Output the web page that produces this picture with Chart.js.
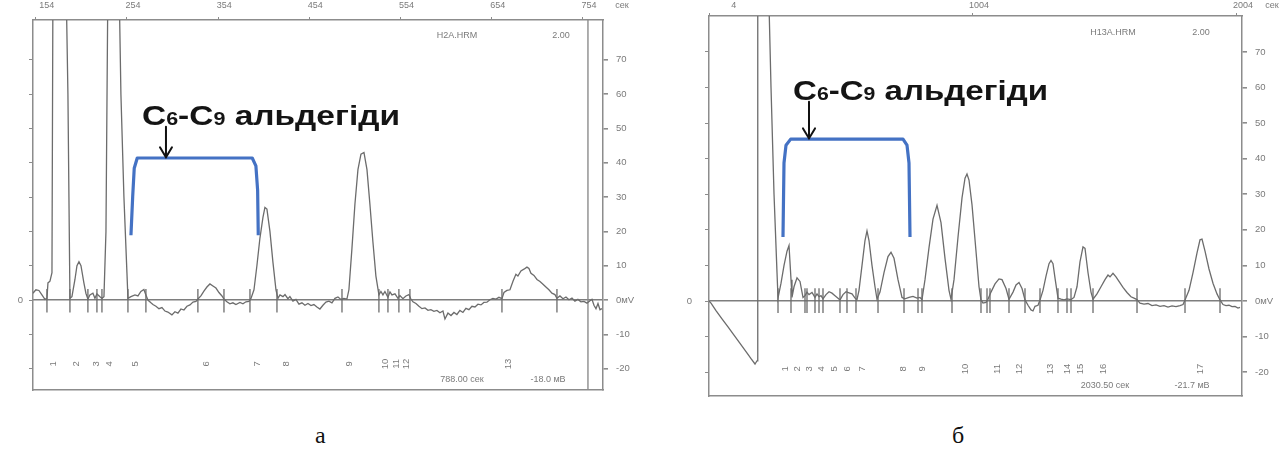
<!DOCTYPE html>
<html>
<head>
<meta charset="utf-8">
<script src="https://cdn.jsdelivr.net/npm/chart.js@4.4.1/dist/chart.umd.min.js"></script>
<style>
  html, body { margin: 0; padding: 0; background: #fff; }
  #wrap { position: relative; width: 1287px; height: 457px; overflow: hidden; background: #fff; }
  canvas { position: absolute; }
  .cap { position: absolute; font-family: "Liberation Serif", "Times New Roman", serif; font-size: 24px; line-height: 24px; color: #111; }
</style>
</head>
<body>
<div id="wrap">
  <canvas id="runA" width="645" height="400" style="left:0px;top:0px"></canvas>
  <canvas id="runB" width="647" height="402" style="left:640px;top:0px"></canvas>
  <div class="cap" style="left:315px;top:423px">а</div>
  <div class="cap" style="left:952px;top:423px">б</div>
</div>
<script>
// ---------- shared ----------
const yTicks = [-20, -10, 0, 10, 20, 30, 40, 50, 60, 70];
const titleParts = [['C', 'big'], ['6', 'sub'], ['-C', 'big'], ['9', 'sub'], [' альдегіди', 'big']];

// ---------- run а : H2A.HRM ----------
const topTicksA = [154, 254, 354, 454, 554, 654, 754];
// [time, mV]
const signalA = [
  [150.9,2.0],[154.2,3.0],[157.5,2.8],[160.8,1.5],[164.1,0.2],[166.3,0.5],[167.4,5.0],[169.6,5.5],[171.8,8],
  [172.9,95],[187.1,95],[189.3,60],[190.4,30],[191.5,0.5],
  [193.7,1],[197,6],[199.2,10],[201.4,11.2],[203.6,10],[206.8,5],[209,2],[211.2,0.3],[213.4,1.5],[216.7,2],
  [218.9,0.5],[221.1,1.8],[224.4,1],[226.6,0.5],[228.8,1],[231,20],[233.2,95],[245.2,95],[247.4,60],[250.7,30],
  [254,8],[255.1,0.5],[258.4,1],[262.8,1.5],[266.1,1.2],[269.3,2.5],[272.6,3.1],[274.8,1.5],[277,0],
  [280.3,-0.8],[282.5,-1.3],[285.8,-1.8],[289.1,-2.5],[292.4,-2.2],[295.7,-3.2],[298.9,-3.5],[303.3,-4.3],
  [306.6,-3.4],[309.9,-3.8],[313.2,-2.6],[316.5,-2.9],[319.8,-1.8],[323.1,-1.4],[326.4,-0.6],[329.7,-0.4],
  [331.8,0.3],[335.1,1.2],[338.4,2.6],[341.7,3.8],[345,4.7],[348.3,4.1],[351.6,3.5],[354.9,2.2],[358.2,1.2],
  [360.4,0.3],[363.6,-0.5],[366.9,-1.1],[370.2,-0.8],[373.5,-1.3],[377.9,-0.7],[381.2,-1.1],[384.5,-0.5],
  [387.8,-0.4],[390,0.5],[393.3,3],[396.5,10],[399.8,18],[403.1,24],[405.3,27],[407.5,26.5],[410.8,20],
  [414.1,11],[417.4,3],[419.6,0.5],[421.8,1.5],[425.1,1.0],[427.3,1.6],[430.5,0.4],[432.7,1.0],[436,-0.3],
  [439.3,0.2],[442.6,-1.2],[445.9,-0.8],[449.2,-1.5],[452.5,-1.0],[455.8,-1.6],[459,-1.3],[462.3,-2.0],
  [465.6,-2.6],[468.9,-1.5],[472.2,-0.6],[475.5,-0.3],[478.8,-0.8],[482.1,0.5],[485.4,0.9],[488.6,0.2],
  [491.9,0.5],[495.2,0.3],[497.4,3],[500.7,15],[504,28],[507.3,38],[510.6,42.5],[513.9,43],[517.2,38],
  [520.4,28],[523.7,17],[527,7],[530.3,1.5],[532.5,2.5],[534.7,1.5],[536.9,2.5],[540.2,0.8],[542.4,2.4],
  [544.6,1.5],[547.9,1.8],[551.2,0.5],[553.3,1.3],[556.6,0.4],[559.9,1.2],[563.2,1.6],[565.4,0.3],
  [567.6,-0.5],[570.9,-1.0],[574.2,-1.8],[577.5,-2.5],[580.8,-2.3],[584.1,-3.0],[587.3,-2.8],[590.6,-3.3],
  [593.9,-3.0],[597.2,-3.7],[600.5,-3.2],[602.7,-5.5],[606,-3.8],[609.3,-4.5],[612.6,-3.6],[615.8,-4.2],
  [619.1,-3.0],[622.4,-3.6],[625.7,-2.4],[629,-2.8],[632.3,-1.8],[635.6,-2.0],[638.9,-1.2],[642.2,-1.4],
  [645.4,-0.7],[648.7,-0.6],[652,0.1],[655.3,0.5],[658.6,0.3],[661.9,0.8],[665.2,0.4],[667.4,2.2],
  [670.7,2.8],[674,3],[677.3,5.5],[680.5,7.5],[682.7,7],[686,8.5],[689.3,9.0],[692.6,9.6],[694.8,9.2],
  [697,7.8],[700.3,7.2],[703.6,6.0],[706.9,5.4],[710.2,4.6],[713.4,3.8],[716.7,3.0],[720,2.0],[723.3,1.6],
  [725.5,0.5],[728.8,1.2],[732.1,0.4],[735.4,0.9],[738.7,0.1],[742,0.6],[745.2,-0.3],[748.5,0.2],
  [751.8,-0.5],[755.1,-0.4],[758.4,-0.9],[761.7,-0.2],[763.9,0.2],[766.1,-1.5],[768.3,-2.5],[770.5,-1.0],
  [772.7,-2.8],[774.8,-2.5]
];
const markersA = [166.3, 191.5, 211.2, 221.1, 226.6, 255.1, 274.8, 331.8, 360.4, 388.9, 418.5,
                  489.8, 530.3, 540.2, 552.2, 564.3, 665.2, 725.5];
const peakTimesA = [172.9, 198.1, 220, 234.3, 262.8, 340.6, 396.5, 428.3, 497.4, 536.9, 549, 560, 671.8];
const peakNamesA = ['1', '2', '3', '4', '5', '6', '7', '8', '9', '10', '11', '12', '13'];
const bracketA = [[258.4,18.9],[260.3,30.1],[262,38.4],[265.3,41.4],[391.4,41.4],[395.4,39.1],[397.3,32],[398,18.9]];
const endOfRunA = 759.5;

// ---------- run б : H13A.HRM ----------
const topTicksB = [4, 1004, 2004];
const signalB = [
  [4,0],[11.6,-0.6],[30.5,-2.7],[53.2,-5.0],[76,-7.3],[98.7,-9.6],[121.5,-11.9],[144.2,-14.2],[163.2,-16.2],
  [178.3,-17.7],[185.9,-16.8],[187.8,-16],[189.6,95],[227.5,95],[238.9,60],[250.3,30],[261.6,8],[265.4,0.8],
  [276.8,5],[288.2,10],[299.5,14],[307.1,15.6],[314.7,6],[318.4,1],[326,4],[337.4,6.5],[348.7,5.5],[360.1,1],
  [367.7,1.5],[375.2,2.5],[382.8,1.8],[394.2,2.4],[405.5,1.0],[413.1,2.0],[420.7,1.2],[428.3,1.5],[435.8,0.6],
  [447.2,1.8],[458.6,2.6],[469.9,2.2],[481.3,1.5],[492.7,0.8],[500.2,0.3],[511.6,1.8],[523,2.6],[534.3,2.3],
  [545.7,2.0],[557.1,0.8],[564.6,0.4],[572.2,3],[583.6,10],[594.9,17],[602.5,19.7],[610.1,17],[621.4,10],
  [632.8,4],[640.4,0.5],[651.7,2.5],[666.9,8],[682,12.5],[693.4,13.7],[704.8,12],[719.9,6],[735.1,1],
  [746.4,0.6],[761.6,1.0],[776.7,1.3],[791.9,0.8],[803.3,1.0],[810.8,0.4],[822.2,6],[837.4,15],[852.5,23],
  [867.7,26.9],[882.8,22],[898,12],[913.1,3],[920.7,0.5],[932.1,6],[947.3,18],[962.4,29],[973.8,34.5],
  [981.3,35.7],[988.9,34],[1000.3,27],[1015.4,14],[1026.8,4],[1034.3,0.3],[1041.9,-0.6],[1053.3,-0.4],
  [1060.8,0.5],[1072.2,2.5],[1087.4,4.8],[1102.5,6.2],[1113.9,6.0],[1129.1,3.5],[1140.4,0.5],[1155.6,2.5],
  [1167,4.5],[1178.3,5.2],[1189.7,3.5],[1201.1,0.3],[1212.4,-1.2],[1223.8,-2.5],[1231.3,-2.8],[1238.9,-1.5],
  [1250.3,-1.2],[1257.8,0.3],[1269.2,3],[1280.6,7],[1292,10.5],[1299.5,11.4],[1307.1,10.5],[1314.6,6.5],
  [1326,0.8],[1337.4,0.5],[1348.7,0.3],[1360.1,0.6],[1375.3,0.4],[1386.6,1],[1398,4],[1409.3,11],
  [1420.7,15.2],[1428.3,14.8],[1439.6,8],[1451,2.5],[1458.6,0.5],[1473.7,2],[1488.9,4],[1504,6],[1515.4,7.3],
  [1523,6.8],[1534.3,7.8],[1545.7,6.8],[1557.1,5.5],[1572.2,3.8],[1587.4,2.4],[1602.5,1.2],[1613.9,0.8],
  [1625.3,0.4],[1636.6,-0.6],[1651.8,-0.9],[1667,-0.7],[1682.1,-1.3],[1697.3,-1.1],[1712.4,-1.5],
  [1727.6,-1.3],[1742.7,-1.7],[1757.9,-1.4],[1773,-1.6],[1788.2,-1.3],[1799.6,-1.0],[1807.1,0.3],[1822.3,3],
  [1837.4,8],[1852.6,13.5],[1863.9,17.2],[1871.5,17.4],[1882.9,14],[1898,9],[1913.1,5],[1928.3,2],
  [1939.7,0.3],[1951,-1.0],[1962.4,-1.3],[1973.7,-1.2],[1985.1,-1.6],[1996.5,-1.5],[2007.8,-2.0],[2015.4,-1.8]
];
const markersB = [265.4, 314.6, 367.6, 375.2, 405.5, 420.7, 435.8, 500.2, 526.7, 560.8, 644.2, 742.7,
                  795.7, 810.8, 924.5, 1034.3, 1057.1, 1068.4, 1140.4, 1201, 1257.8, 1326, 1360.1, 1375.3,
                  1458.6, 1625.3, 1807.1, 1939.7];
const peakTimesB = [291.9, 337.3, 382.8, 428.2, 477.5, 526.7, 583.6, 738.9, 810.8, 973.7, 1094.9, 1178.2,
                    1295.7, 1360.1, 1409.3, 1496.5, 1863.9];
const peakNamesB = ['1','2','3','4','5','6','7','8','9','10','11','12','13','14','15','16','17'];
const bracketB = [[284.3,18],[288.1,38.8],[295.7,43.8],[313.4,45.5],[738.9,45.5],[754,43.8],[761.6,38.8],[765.4,18]];

// ---------- drawing ----------
const TRACE = '#6c6c6c';
const FRAME = '#8c8c8c';
const LABEL = '#7a7a7a';
const FONT = '"Liberation Sans", Arial, sans-serif';

function toPoints(pairs) { return pairs.map(([x, y]) => ({ x, y })); }

function markerPoints(times, lo, hi) {
  const pts = [];
  times.forEach(t => { pts.push({ x: t, y: hi }, { x: t, y: lo }, { x: t, y: null }); });
  return pts;
}

function drawTitle(ctx, x0, base, width) {
  const sizes = { big: 28, sub: 18 };
  let natural = 0;
  titleParts.forEach(([txt, k]) => { ctx.font = `bold ${sizes[k]}px ${FONT}`; natural += ctx.measureText(txt).width; });
  const s = width / natural;
  ctx.save();
  ctx.translate(x0, base);
  ctx.scale(s, 1);
  ctx.fillStyle = '#141414';
  ctx.textAlign = 'left';
  ctx.textBaseline = 'alphabetic';
  let cx = 0;
  titleParts.forEach(([txt, k]) => {
    ctx.font = `bold ${sizes[k]}px ${FONT}`;
    ctx.fillText(txt, cx, 0);
    cx += ctx.measureText(txt).width;
  });
  ctx.restore();
}

function overlay(o) {
  return {
    id: 'overlay',
    afterDatasetsDraw(chart) {
      const { ctx, scales: { x, y } } = chart;
      ctx.save();
      // peak numbers under the baseline, printed sideways
      ctx.fillStyle = LABEL;
      ctx.font = `9.5px ${FONT}`;
      ctx.textAlign = 'center';
      ctx.textBaseline = 'middle';
      const py = y.getPixelForValue(o.peakLabelY);
      o.peakTimes.forEach((t, i) => {
        ctx.save();
        ctx.translate(x.getPixelForValue(t), py);
        ctx.rotate(-Math.PI / 2);
        ctx.fillText(o.peakNames[i], 0, 0);
        ctx.restore();
      });
      // printer notes
      ctx.font = `9px ${FONT}`;
      o.notes.forEach(n => ctx.fillText(n.text, n.x, n.y));
      // arrow pointing at the bracket
      const ax = x.getPixelForValue(o.arrow.t);
      const a0 = y.getPixelForValue(o.arrow.from);
      const a1 = y.getPixelForValue(o.arrow.to);
      ctx.strokeStyle = '#111';
      ctx.lineWidth = 2;
      ctx.lineCap = 'round';
      ctx.beginPath();
      ctx.moveTo(ax, a0); ctx.lineTo(ax, a1);
      ctx.moveTo(ax - 6, a1 - 10); ctx.lineTo(ax, a1); ctx.lineTo(ax + 6, a1 - 10);
      ctx.stroke();
      drawTitle(ctx, o.title.x, o.title.y, o.title.w);
      ctx.restore();
    }
  };
}

function buildRun(id, c) {
  const datasets = [
    { data: toPoints(c.signal), borderColor: TRACE, borderWidth: 1.3 },
    { data: markerPoints(c.markers, c.markLo, c.markHi), borderColor: TRACE, borderWidth: 1.3, spanGaps: false },
    { data: toPoints(c.bracket), borderColor: '#4472c4', borderWidth: 3.2, borderJoinStyle: 'round' }
  ];
  if (c.endOfRun !== undefined) {
    datasets.push({ data: [{ x: c.endOfRun, y: c.yMin }, { x: c.endOfRun, y: c.yMax }], borderColor: FRAME, borderWidth: 1.4 });
  }
  datasets.forEach(d => Object.assign(d, { pointRadius: 0, tension: 0, fill: false, xAxisID: 'x', yAxisID: 'y' }));

  const ySet = ax => { ax.ticks = yTicks.map(v => ({ value: v })); };
  const yFit = w => ax => { ax.width = w; ax.paddingTop = 0; ax.paddingBottom = 0; };
  return new Chart(document.getElementById(id), {
    type: 'line',
    data: { datasets },
    plugins: [overlay(c.overlay)],
    options: {
      responsive: false,
      animation: false,
      devicePixelRatio: 1,
      events: [],
      layout: { padding: { left: c.padLeft, right: 0, top: 0, bottom: 0 } },
      plugins: { legend: { display: false }, tooltip: { enabled: false } },
      scales: {
        x: {
          type: 'linear', position: 'top', min: c.xMin, max: c.xMax,
          afterBuildTicks: ax => { ax.ticks = c.topTicks.map(v => ({ value: v })); },
          afterFit: ax => { ax.height = c.topH; ax.paddingLeft = 0; ax.paddingRight = 0; },
          ticks: { autoSkip: false, maxRotation: 0, minRotation: 0, labelOffset: 6, padding: c.topPad,
                   color: LABEL, font: { size: 9 }, callback: c.topLabel },
          grid: { drawOnChartArea: false, drawTicks: true, tickLength: 3, color: FRAME, tickColor: FRAME },
          border: { display: true, color: FRAME, width: 1.5 }
        },
        xb: {
          type: 'linear', position: 'bottom', min: c.xMin, max: c.xMax,
          ticks: { display: false },
          grid: { display: false, drawTicks: false },
          afterFit: ax => { ax.height = c.bottomH; ax.paddingLeft = 0; ax.paddingRight = 0; },
          border: { display: true, color: FRAME, width: 1.5 }
        },
        y: {
          type: 'linear', position: 'right', min: c.yMin, max: c.yMax,
          afterBuildTicks: ySet,
          afterFit: yFit(c.rightW),
          ticks: { padding: 8, color: LABEL, font: { size: 9.5 }, callback: v => (v === 0 ? '0мV' : String(v)) },
          grid: {
            drawOnChartArea: true, tickLength: 5, tickColor: FRAME, lineWidth: 1.6,
            color: ctx => (ctx.tick && ctx.tick.value === 0 ? '#7e7e7e' : 'rgba(0,0,0,0)')
          },
          border: { display: true, color: FRAME, width: 1.5 }
        },
        yl: {
          type: 'linear', position: 'left', min: c.yMin, max: c.yMax,
          afterBuildTicks: ySet,
          afterFit: yFit(c.leftW),
          ticks: { padding: c.leftPad, color: LABEL, font: { size: 9.5 }, callback: v => (v === 0 ? '0' : '') },
          grid: { drawOnChartArea: false, tickLength: 4, tickColor: FRAME, color: FRAME },
          border: { display: true, color: FRAME, width: 1.5 }
        }
      }
    }
  });
}

buildRun('runA', {
  signal: signalA, markers: markersA, markLo: -3.6, markHi: 3.2, bracket: bracketA, endOfRun: endOfRunA,
  xMin: 151, xMax: 776, yMin: -26.2, yMax: 81.6,
  topTicks: topTicksA, topLabel: v => (v === 154 ? '    154' : String(v)),
  padLeft: 0, leftW: 33, leftPad: 6, rightW: 42, topH: 20, topPad: 6, bottomH: 10,
  overlay: {
    peakTimes: peakTimesA, peakNames: peakNamesA, peakLabelY: -18.6,
    notes: [
      { text: 'H2A.HRM', x: 457, y: 36 }, { text: '2.00', x: 561, y: 36 },
      { text: '788.00 сек', x: 462, y: 380 }, { text: '-18.0 мВ', x: 548, y: 380 },
      { text: 'сек', x: 622, y: 6 }
    ],
    arrow: { t: 296.8, from: 50.5, to: 41.6 },
    title: { x: 142, y: 125, w: 258 }
  }
});

buildRun('runB', {
  signal: signalB, markers: markersB, markLo: -3.4, markHi: 3.6, bracket: bracketB,
  xMin: 4, xMax: 2023, yMin: -26.7, yMax: 80.1,
  topTicks: topTicksB, topLabel: v => (v === 4 ? '               4' : String(v)),
  padLeft: 36, leftW: 33, leftPad: 13, rightW: 45, topH: 16, topPad: 2, bottomH: 6,
  overlay: {
    peakTimes: peakTimesB, peakNames: peakNamesB, peakLabelY: -19.1,
    notes: [
      { text: 'H13A.HRM', x: 473, y: 33 }, { text: '2.00', x: 561, y: 33 },
      { text: '2030.50 сек', x: 465, y: 386 }, { text: '-21.7 мВ', x: 552, y: 386 },
      { text: 'сек', x: 632, y: 6 }
    ],
    arrow: { t: 382.8, from: 56, to: 45.7 },
    title: { x: 153, y: 100, w: 255 }
  }
});
</script>
</body>
</html>
